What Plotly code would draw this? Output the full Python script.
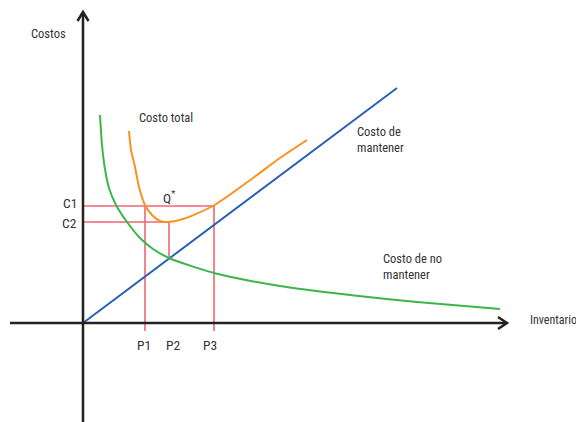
import plotly.graph_objects as go

# x = inventory, y = cost (arbitrary units, origin at the axes' crossing)
mant_x = [0.0, 31.4]
mant_y = [0.0, 23.5]

no_mant_x = [1.7, 1.9, 2.2, 2.6, 3.3, 4.4, 5.7, 7.0, 8.6, 13.1, 19.7, 26.7, 33.4, 41.7]
no_mant_y = [20.8, 17.8, 15.4, 13.5, 11.8, 10.1, 8.5, 7.4, 6.5, 5.0, 3.7, 2.8, 2.1, 1.4]

total_x = [4.6, 4.8, 5.2, 5.6, 6.2, 6.9, 7.7, 8.4, 10.0, 13.0, 17.0, 19.7, 22.4]
total_y = [19.2, 17.3, 15.6, 13.6, 11.8, 10.8, 10.2, 10.1, 10.4, 11.7, 14.5, 16.5, 18.3]

c_labels = ["C1", "C2"]
c_levels = [11.7, 10.1]
p_labels = ["P1", "P2", "P3"]
p_levels = [6.2, 8.6, 13.1]
p_bottom = [-0.8, 6.5, -0.8]      # where each vertical guide ends
p_top = [c_levels[0], c_levels[1], c_levels[0]]

FONT = "Liberation Sans Narrow, Roboto Condensed, Liberation Sans, Arial"
TXT = "#333333"
RED = "#f06474"

fig = go.Figure()

# red guide lines
for lvl, px in zip(c_levels, [p_levels[2], p_levels[1]]):
    fig.add_trace(go.Scatter(x=[0, px], y=[lvl, lvl], mode="lines",
                             line=dict(color=RED, width=1.6)))
for px, lo, hi in zip(p_levels, p_bottom, p_top):
    fig.add_trace(go.Scatter(x=[px, px], y=[lo, hi], mode="lines",
                             line=dict(color=RED, width=1.6)))

fig.add_trace(go.Scatter(x=mant_x, y=mant_y, mode="lines",
                         line=dict(color="#2b5fb4", width=2)))
fig.add_trace(go.Scatter(x=no_mant_x, y=no_mant_y, mode="lines",
                         line=dict(color="#3db54a", width=2, shape="spline", smoothing=0.7)))
fig.add_trace(go.Scatter(x=total_x, y=total_y, mode="lines",
                         line=dict(color="#f7931e", width=2, shape="spline", smoothing=0.7)))

# axes with open arrowheads
ax = dict(color="#222222", width=2.5)
fig.add_shape(type="line", x0=0, y0=-11, x1=0, y1=31.0, line=ax)
fig.add_shape(type="line", x0=-7.3, y0=0, x1=42.3, y1=0, line=ax)
fig.add_shape(type="path", path="M -0.55,30.2 L 0,31.1 L 0.55,30.2", line=ax)
fig.add_shape(type="path", path="M 41.5,0.6 L 42.4,0 L 41.5,-0.6", line=ax)

def label(x, y, text, anchor="center", size=12.5):
    fig.add_annotation(x=x, y=y, text=text, showarrow=False, xanchor=anchor,
                       yanchor="middle", align="left",
                       font=dict(family=FONT, size=size, color=TXT))

label(-3.5, 29.0, "Costos")
label(8.3, 20.6, "Costo total")
label(8.6, 12.6, "Q<sup>*</sup>", size=13.5)
label(27.2, 18.4, "Costo de<br>mantener", anchor="left")
label(29.8, 5.7, "Costo de no<br>mantener", anchor="left")
label(49.6, 0.3, "Inventario", anchor="right", size=12)
for name, lvl in zip(c_labels, [12.0, 10.0]):
    label(-0.4, lvl, name, anchor="right", size=13.5)
for name, px in zip(p_labels, [6.1, 9.0, 12.7]):
    label(px, -2.2, name, size=13.5)

# the page adds an 8px body margin, so the ranges are shifted by 0.8 units
fig.update_layout(
    width=584, height=422,
    margin=dict(l=0, r=0, t=0, b=0),
    paper_bgcolor="white", plot_bgcolor="white",
    showlegend=False,
)
fig.update_xaxes(range=[-7.5, 50.9], visible=False)
fig.update_yaxes(range=[-10.7, 31.5], visible=False)

fig.write_html("out.html")
